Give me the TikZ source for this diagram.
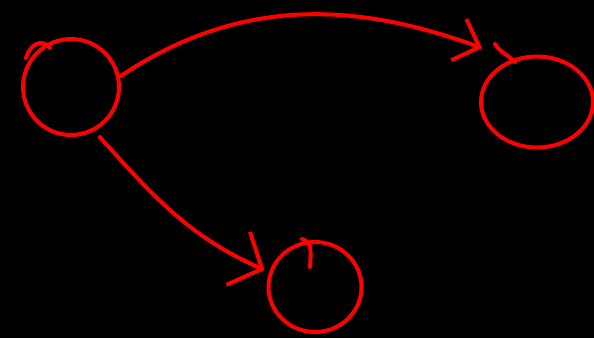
\documentclass[tikz,border=0pt]{standalone}
\usetikzlibrary{arrows.meta,shapes.geometric}

\begin{document}
\begin{tikzpicture}[x=1pt,y=1pt,line cap=round,line join=round,
  blob/.style={draw=red,line width=4pt,ellipse,inner sep=0pt},
  stroke/.style={draw=red,line width=4pt},
  link/.style={stroke,-{Straight Barb[length=22pt,width=44pt]}}]
\useasboundingbox (0,0) rectangle (594,338);
\fill[black] (0,0) rectangle (594,338);
\node[blob,minimum width=96pt,minimum height=96pt] (src) at (71,251) {};
\node[blob,minimum width=112pt,minimum height=91pt] (dstR) at (537,236) {};
\node[blob,minimum width=93pt,minimum height=90pt] (dstB) at (315,51) {};
% pen overlaps where each circle was started
\draw[stroke] (50,290) .. controls (42,300) and (30,294) .. (26,280);
\draw[stroke] (495,294) .. controls (500,286) and (508,283) .. (515,276);
\draw[stroke] (302,99) .. controls (312,96) and (311,88) .. (310,71);
% arrows
\draw[link,shorten >=32pt] (src.12) to[out=34,in=160] (dstR.120);
\draw[link,-{Straight Barb[length=26pt,width=58pt]},shorten <=8pt,shorten >=5pt] (src.-62) to[out=-48,in=156] (dstB.162);
\end{tikzpicture}
\end{document}
